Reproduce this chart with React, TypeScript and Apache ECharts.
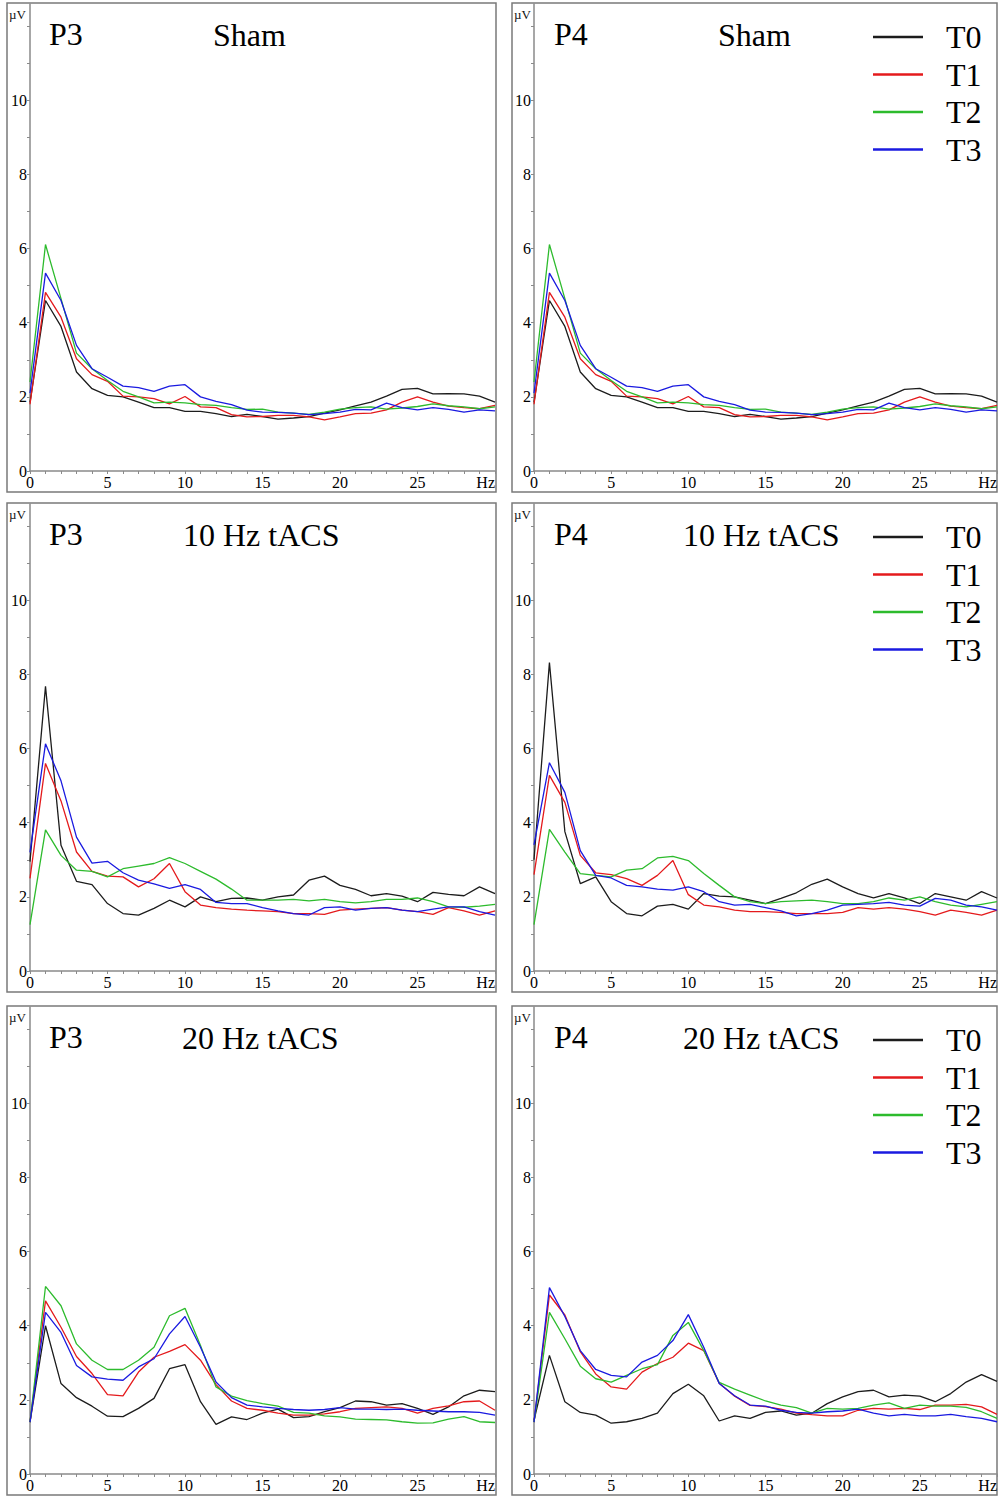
import React, { useEffect, useRef } from "react";
import * as echarts from "echarts";

// ---------- data ----------
const HZ = [0, 1, 2, 3, 4, 5, 6, 7, 8, 9, 10, 11, 12, 13, 14, 15, 16, 17, 18, 19, 20, 21, 22, 23, 24, 25, 26, 27, 28, 29, 30];
const SERIES_NAMES = ["T0", "T1", "T2", "T3"];
const Y_TICKS = [0, 1, 2, 3, 4, 5, 6, 7, 8, 9, 10, 11, 12];
const Y_LABELS = [0, 2, 4, 6, 8, 10];
const X_LABELS = [0, 5, 10, 15, 20, 25, 30];
const CHANNELS = ["P3", "P4"];
const CONDITIONS = ["Sham", "10 Hz tACS", "20 Hz tACS"];

// Sham (P3 and P4 panels show the same curves)
const SHAM_T0 = [1.85, 4.6, 3.9, 2.67, 2.22, 2.04, 2.0, 1.86, 1.71, 1.71, 1.61, 1.61, 1.55, 1.47, 1.53, 1.47, 1.4, 1.43, 1.47, 1.56, 1.65, 1.76, 1.86, 2.02, 2.2, 2.23, 2.08, 2.09, 2.08, 2.02, 1.86];
const SHAM_T1 = [1.8, 4.82, 4.15, 3.03, 2.6, 2.42, 2.02, 2.0, 1.95, 1.81, 2.01, 1.73, 1.71, 1.52, 1.46, 1.47, 1.5, 1.5, 1.46, 1.38, 1.46, 1.55, 1.56, 1.65, 1.86, 2.0, 1.86, 1.75, 1.71, 1.68, 1.77];
const SHAM_T2 = [2.4, 6.11, 4.65, 3.18, 2.76, 2.44, 2.15, 2.0, 1.84, 1.86, 1.84, 1.79, 1.77, 1.71, 1.66, 1.67, 1.59, 1.56, 1.53, 1.59, 1.67, 1.71, 1.73, 1.67, 1.7, 1.74, 1.81, 1.76, 1.73, 1.68, 1.73];
const SHAM_T3 = [2.1, 5.34, 4.6, 3.39, 2.76, 2.53, 2.29, 2.25, 2.15, 2.29, 2.33, 2.0, 1.88, 1.79, 1.64, 1.59, 1.58, 1.56, 1.52, 1.55, 1.59, 1.66, 1.65, 1.83, 1.71, 1.65, 1.71, 1.66, 1.59, 1.65, 1.62];

// P3 10 Hz tACS
const P3_10_T0 = [2.95, 7.68, 3.39, 2.42, 2.33, 1.82, 1.55, 1.51, 1.69, 1.91, 1.73, 2.0, 1.87, 1.96, 1.97, 1.91, 2.0, 2.05, 2.45, 2.56, 2.31, 2.2, 2.03, 2.09, 2.02, 1.87, 2.12, 2.07, 2.03, 2.27, 2.09];
const P3_10_T1 = [2.5, 5.6, 4.59, 3.21, 2.69, 2.56, 2.54, 2.27, 2.49, 2.9, 2.14, 1.78, 1.71, 1.67, 1.64, 1.62, 1.6, 1.55, 1.55, 1.53, 1.64, 1.67, 1.69, 1.71, 1.64, 1.6, 1.53, 1.71, 1.62, 1.51, 1.62];
const P3_10_T2 = [1.25, 3.81, 3.12, 2.72, 2.69, 2.54, 2.76, 2.83, 2.9, 3.06, 2.9, 2.69, 2.48, 2.21, 1.91, 1.91, 1.91, 1.93, 1.89, 1.93, 1.87, 1.84, 1.87, 1.93, 1.93, 1.97, 1.87, 1.73, 1.72, 1.75, 1.8];
const P3_10_T3 = [3.2, 6.13, 5.13, 3.61, 2.91, 2.96, 2.65, 2.45, 2.35, 2.23, 2.33, 2.2, 1.85, 1.82, 1.82, 1.71, 1.62, 1.55, 1.51, 1.71, 1.73, 1.64, 1.69, 1.71, 1.64, 1.6, 1.67, 1.73, 1.73, 1.6, 1.51];

// P4 10 Hz tACS
const P4_10_T0 = [3.0, 8.32, 3.76, 2.36, 2.54, 1.87, 1.55, 1.49, 1.75, 1.8, 1.67, 2.09, 2.02, 2.0, 1.91, 1.82, 1.96, 2.11, 2.34, 2.48, 2.27, 2.09, 1.97, 2.09, 1.97, 1.82, 2.09, 2.0, 1.91, 2.14, 1.97];
const P4_10_T1 = [2.6, 5.28, 4.55, 3.12, 2.65, 2.6, 2.49, 2.31, 2.58, 2.98, 2.06, 1.78, 1.73, 1.64, 1.6, 1.6, 1.58, 1.55, 1.55, 1.55, 1.58, 1.71, 1.67, 1.71, 1.67, 1.6, 1.51, 1.64, 1.58, 1.51, 1.64];
const P4_10_T2 = [1.25, 3.82, 3.21, 2.63, 2.58, 2.54, 2.72, 2.76, 3.05, 3.09, 2.98, 2.63, 2.31, 2.0, 1.87, 1.82, 1.87, 1.89, 1.91, 1.87, 1.82, 1.82, 1.87, 1.97, 1.91, 2.0, 1.87, 1.78, 1.73, 1.8, 1.87];
const P4_10_T3 = [3.4, 5.62, 4.82, 3.25, 2.58, 2.51, 2.31, 2.27, 2.21, 2.18, 2.27, 2.14, 1.87, 1.78, 1.8, 1.71, 1.62, 1.49, 1.55, 1.64, 1.78, 1.8, 1.82, 1.85, 1.78, 1.75, 1.96, 1.91, 1.78, 1.73, 1.64];

// P3 20 Hz tACS
const P3_20_T0 = [1.4, 4.0, 2.44, 2.06, 1.83, 1.56, 1.55, 1.77, 2.04, 2.84, 2.95, 1.95, 1.34, 1.54, 1.47, 1.64, 1.75, 1.52, 1.55, 1.68, 1.79, 1.97, 1.95, 1.86, 1.9, 1.77, 1.61, 1.81, 2.11, 2.26, 2.22];
const P3_20_T1 = [1.4, 4.67, 3.96, 3.17, 2.71, 2.14, 2.11, 2.75, 3.15, 3.31, 3.49, 3.07, 2.41, 1.97, 1.77, 1.72, 1.64, 1.59, 1.59, 1.62, 1.68, 1.77, 1.79, 1.81, 1.77, 1.64, 1.77, 1.84, 1.95, 1.97, 1.72];
const P3_20_T2 = [1.4, 5.06, 4.54, 3.51, 3.07, 2.82, 2.82, 3.07, 3.42, 4.27, 4.47, 3.47, 2.35, 2.1, 1.98, 1.9, 1.83, 1.66, 1.64, 1.57, 1.54, 1.48, 1.47, 1.46, 1.41, 1.37, 1.38, 1.48, 1.55, 1.41, 1.39];
const P3_20_T3 = [1.4, 4.36, 3.82, 2.93, 2.62, 2.56, 2.53, 2.89, 3.11, 3.78, 4.25, 3.42, 2.48, 2.06, 1.86, 1.81, 1.77, 1.74, 1.72, 1.74, 1.79, 1.75, 1.75, 1.74, 1.75, 1.72, 1.7, 1.68, 1.68, 1.66, 1.59];

// P4 20 Hz tACS
const P4_20_T0 = [1.45, 3.2, 1.95, 1.66, 1.59, 1.37, 1.41, 1.5, 1.64, 2.17, 2.42, 2.11, 1.43, 1.57, 1.5, 1.66, 1.7, 1.59, 1.64, 1.9, 2.08, 2.22, 2.26, 2.08, 2.13, 2.1, 1.95, 2.17, 2.48, 2.68, 2.5];
const P4_20_T1 = [1.4, 4.83, 4.29, 3.3, 2.7, 2.35, 2.29, 2.75, 2.98, 3.15, 3.53, 3.33, 2.45, 2.1, 1.85, 1.82, 1.75, 1.64, 1.6, 1.57, 1.57, 1.72, 1.77, 1.75, 1.77, 1.74, 1.86, 1.86, 1.88, 1.81, 1.61];
const P4_20_T2 = [1.4, 4.36, 3.65, 2.91, 2.57, 2.48, 2.66, 2.84, 2.95, 3.74, 4.09, 3.33, 2.47, 2.29, 2.13, 1.97, 1.86, 1.79, 1.64, 1.77, 1.75, 1.77, 1.86, 1.92, 1.77, 1.86, 1.83, 1.83, 1.8, 1.68, 1.5];
const P4_20_T3 = [1.4, 5.03, 4.25, 3.33, 2.82, 2.66, 2.62, 3.02, 3.2, 3.6, 4.3, 3.42, 2.44, 2.11, 1.86, 1.83, 1.72, 1.66, 1.64, 1.68, 1.7, 1.75, 1.64, 1.57, 1.61, 1.57, 1.57, 1.61, 1.55, 1.5, 1.41];

// panel order: row by row, left (P3) then right (P4)
const PANEL_SERIES = [
  [SHAM_T0, SHAM_T1, SHAM_T2, SHAM_T3],
  [SHAM_T0, SHAM_T1, SHAM_T2, SHAM_T3],
  [P3_10_T0, P3_10_T1, P3_10_T2, P3_10_T3],
  [P4_10_T0, P4_10_T1, P4_10_T2, P4_10_T3],
  [P3_20_T0, P3_20_T1, P3_20_T2, P3_20_T3],
  [P4_20_T0, P4_20_T1, P4_20_T2, P4_20_T3],
];

// ---------- layout / style ----------
const COLORS = ["#1c1c1c", "#e41a1c", "#2dbb2d", "#1a1ae0"];
const SERIF = "Liberation Serif";
const COL_LEFT = [7, 512];
const COL_WIDTH = [489, 485];
const ROW_TOP = [3, 503, 1006];
const PANEL_H = 489;
const AXIS_LEFT = [30, 534];
const PLOT_W = [465, 463];
const PLOT_H = 467;
const TITLE_X = [
  [213, 718],
  [183, 683],
  [182, 683],
];
const P_LABEL_X = [49, 554];

export default function App() {
  const ref = useRef<HTMLDivElement>(null);

  useEffect(() => {
    if (!ref.current) return;
    const chart = echarts.init(ref.current, undefined, { renderer: "svg" });

    const grids: any[] = [];
    const xAxes: any[] = [];
    const yAxes: any[] = [];
    const series: any[] = [];
    const graphics: any[] = [];
    const legends: any[] = [];

    const tickLabel = {
      fontFamily: SERIF,
      fontSize: 16,
      color: "#000",
    };

    for (let row = 0; row < 3; row++) {
      for (let col = 0; col < 2; col++) {
        const idx = row * 2 + col;
        const top = ROW_TOP[row];
        grids.push({
          left: AXIS_LEFT[col],
          top: top + 1,
          width: PLOT_W[col],
          height: PLOT_H,
          containLabel: false,
        });
        xAxes.push({
          gridIndex: idx,
          type: "value",
          min: 0,
          max: 30,
          interval: 1,
          axisLine: { show: true, onZero: false, lineStyle: { color: "#8a8a8a", width: 1.5 } },
          axisTick: { show: true, length: 3, lineStyle: { color: "#8a8a8a", width: 1 } },
          axisLabel: {
            show: true,
            customValues: X_LABELS,
            formatter: (v: number) => (v === 30 ? "Hz" : String(v)),
            margin: 3,
            alignMaxLabel: "right",
            ...tickLabel,
          },
          splitLine: { show: false },
        });
        yAxes.push({
          gridIndex: idx,
          type: "value",
          min: 0,
          max: 12.6,
          interval: 1,
          axisLine: { show: true, onZero: false, lineStyle: { color: "#8a8a8a", width: 1.5 } },
          axisTick: { show: true, length: 3, customValues: Y_TICKS, lineStyle: { color: "#8a8a8a", width: 1 } },
          axisLabel: {
            show: true,
            customValues: Y_LABELS,
            formatter: (v: number) => String(v),
            margin: 3,
            ...tickLabel,
          },
          splitLine: { show: false },
        });
        PANEL_SERIES[idx].forEach((vals, s) => {
          series.push({
            type: "line",
            name: SERIES_NAMES[s],
            xAxisIndex: idx,
            yAxisIndex: idx,
            data: HZ.map((h, k) => [h, vals[k]]),
            symbol: "none",
            showSymbol: false,
            silent: true,
            lineStyle: { color: COLORS[s], width: 1.3 },
            itemStyle: { color: COLORS[s] },
            emphasis: { disabled: true },
          });
        });
        // panel frame
        graphics.push({
          type: "rect",
          silent: true,
          shape: { x: COL_LEFT[col], y: top, width: COL_WIDTH[col], height: PANEL_H },
          style: { fill: "none", stroke: "#7a7a7a", lineWidth: 1.5 },
        });
        // unit label
        graphics.push({
          type: "text",
          silent: true,
          x: COL_LEFT[col] + 2,
          y: top + 11,
          style: { text: "\u00b5V", fontFamily: SERIF, fontSize: 13, fill: "#111", verticalAlign: "middle" },
        });
        // channel label
        graphics.push({
          type: "text",
          silent: true,
          x: P_LABEL_X[col],
          y: top + 31,
          style: { text: CHANNELS[col], fontFamily: SERIF, fontSize: 32, fill: "#000", verticalAlign: "middle" },
        });
        // condition label
        graphics.push({
          type: "text",
          silent: true,
          x: TITLE_X[row][col],
          y: top + 32,
          style: { text: CONDITIONS[row], fontFamily: SERIF, fontSize: 32, fill: "#000", verticalAlign: "middle" },
        });
      }
      legends.push({
        left: 873,
        top: ROW_TOP[row] + 18,
        orient: "vertical",
        padding: 0,
        icon: "rect",
        itemWidth: 50,
        itemHeight: 2.5,
        itemGap: 5.5,
        selectedMode: false,
        data: SERIES_NAMES,
        textStyle: {
          fontFamily: SERIF,
          fontSize: 32,
          lineHeight: 32,
          color: "#000",
          padding: [0, 0, 0, 18],
        },
      });
    }

    chart.setOption({
      animation: false,
      backgroundColor: "#ffffff",
      textStyle: { fontFamily: SERIF },
      grid: grids,
      xAxis: xAxes,
      yAxis: yAxes,
      legend: legends,
      series,
      graphic: graphics,
    });

    return () => chart.dispose();
  }, []);

  return (
    <div
      ref={ref}
      style={{ position: "absolute", left: 0, top: 0, width: 1004, height: 1500, background: "#fff" }}
    />
  );
}
